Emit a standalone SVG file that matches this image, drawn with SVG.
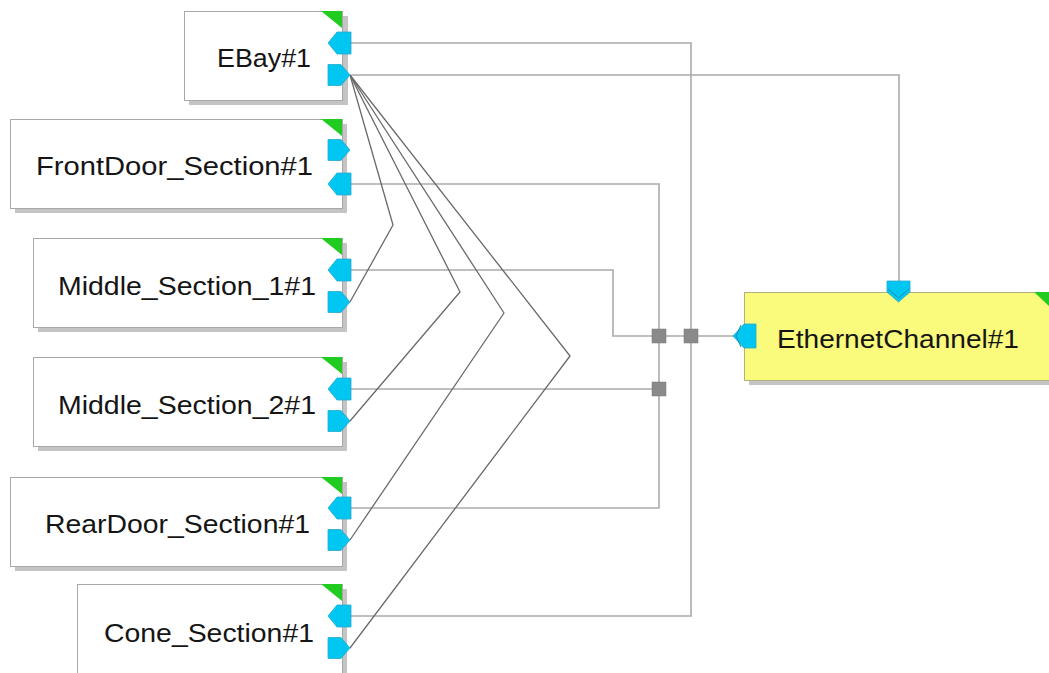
<svg xmlns="http://www.w3.org/2000/svg" width="1049" height="673" viewBox="0 0 1049 673">
<style>
.box{fill:#ffffff;stroke:#a8a8a8;stroke-width:1}
.shadow{fill:#c4c4c4}
.yel{fill:#fafa7c;stroke:#b0b080;stroke-width:1}
.tri{fill:#1fcc1f}
.port{fill:#00c6f2;stroke:#28a8cc;stroke-width:0.8}
.chev{fill:none;stroke:#1890b0;stroke-width:1}
.lbl{font-family:"Liberation Sans",Arial,sans-serif;font-size:25px;fill:#151515}
.wire{fill:none;stroke:#ababab;stroke-width:1.6}
.diag{fill:none;stroke:#6a6a6a;stroke-width:1.3;stroke-linejoin:round}
.junc{fill:#8a8a8a;stroke:#777;stroke-width:0.5}
</style>
<rect width="1049" height="673" fill="#ffffff"/>

<g id="connectors">
  <polyline class="wire" points="351,43 691,43 691,616 351,616"/>
  <polyline class="wire" points="351,75 899,75 899,282"/>
  <polyline class="wire" points="351,184 659,184 659,508 351,508"/>
  <polyline class="wire" points="351,270 613,270 613,336 733,336"/>
  <polyline class="wire" points="351,389 659,389"/>
  <polyline class="diag" points="350,75 393,225 350,302"/>
  <polyline class="diag" points="350,75 460,292 350,421"/>
  <polyline class="diag" points="350,75 504,313 350,540"/>
  <polyline class="diag" points="350,75 570,356 350,648"/>
  <rect class="junc" x="652" y="329" width="14" height="14"/>
  <rect class="junc" x="684" y="329" width="14" height="14"/>
  <rect class="junc" x="652" y="382" width="14" height="14"/>
</g>

<g id="ebay">
  <rect class="shadow" x="189" y="16" width="159" height="89"/>
  <rect class="box" x="184.5" y="11.5" width="158" height="89"/>
  <polygon class="tri" points="321,11 342,11 342,28"/>
  <polygon class="port" points="328,43 337,32 351,32 351,54 337,54"/>
  <polygon class="port" points="328,64.5 341,64.5 350,75 341,85.5 328,85.5"/>
  <text class="lbl" x="217" y="67" textLength="94" lengthAdjust="spacingAndGlyphs">EBay#1</text>
</g>

<g id="frontdoor">
  <rect class="shadow" x="15" y="124" width="332" height="89"/>
  <rect class="box" x="10.5" y="119.5" width="332" height="89"/>
  <polygon class="tri" points="321,119 342,119 342,136"/>
  <polygon class="port" points="328,139.5 341,139.5 350,150 341,160.5 328,160.5"/>
  <polygon class="port" points="328,184 337,173 351,173 351,195 337,195"/>
  <text class="lbl" x="36" y="175" textLength="277" lengthAdjust="spacingAndGlyphs">FrontDoor_Section#1</text>
</g>

<g id="middle1">
  <rect class="shadow" x="38" y="243" width="309" height="89"/>
  <rect class="box" x="33.5" y="238.5" width="309" height="89"/>
  <polygon class="tri" points="321,238 342,238 342,255"/>
  <polygon class="port" points="328,270 337,259 351,259 351,281 337,281"/>
  <polygon class="port" points="328,291.5 341,291.5 350,302 341,312.5 328,312.5"/>
  <text class="lbl" x="58" y="295" textLength="258" lengthAdjust="spacingAndGlyphs">Middle_Section_1#1</text>
</g>

<g id="middle2">
  <rect class="shadow" x="38" y="362" width="309" height="89"/>
  <rect class="box" x="33.5" y="357.5" width="309" height="89"/>
  <polygon class="tri" points="321,357 342,357 342,374"/>
  <polygon class="port" points="328,389 337,378 351,378 351,400 337,400"/>
  <polygon class="port" points="328,410.5 341,410.5 350,421 341,431.5 328,431.5"/>
  <text class="lbl" x="58" y="414" textLength="258" lengthAdjust="spacingAndGlyphs">Middle_Section_2#1</text>
</g>

<g id="reardoor">
  <rect class="shadow" x="15" y="482" width="332" height="89"/>
  <rect class="box" x="10.5" y="477.5" width="332" height="89"/>
  <polygon class="tri" points="321,477 342,477 342,494"/>
  <polygon class="port" points="328,508 337,497 351,497 351,519 337,519"/>
  <polygon class="port" points="328,529.5 341,529.5 350,540 341,550.5 328,550.5"/>
  <text class="lbl" x="45" y="533" textLength="265" lengthAdjust="spacingAndGlyphs">RearDoor_Section#1</text>
</g>

<g id="cone">
  <rect class="shadow" x="82" y="589" width="265" height="89"/>
  <rect class="box" x="77.5" y="584.5" width="265" height="89"/>
  <polygon class="tri" points="321,584 342,584 342,601"/>
  <polygon class="port" points="328,616 337,605 351,605 351,627 337,627"/>
  <polygon class="port" points="328,637.5 341,637.5 350,648 341,658.5 328,658.5"/>
  <text class="lbl" x="104" y="642" textLength="210" lengthAdjust="spacingAndGlyphs">Cone_Section#1</text>
</g>

<g id="ethernet">
  <rect class="shadow" x="749" y="297" width="310" height="88"/>
  <rect class="yel" x="744.5" y="292.5" width="310" height="88"/>
  <polygon class="tri" points="1034,292 1049,292 1049,306"/>
  <polygon class="port" points="887,281 910,281 910,292 898.5,302 887,292"/>
  <polyline class="chev" points="888,289 898.5,298 909,289"/>
  <polygon class="port" points="733,336 744,324 756,324 756,348 744,348"/>
  <polyline class="chev" points="741,325 736,336 741,347"/>
  <text class="lbl" x="777" y="348" textLength="242" lengthAdjust="spacingAndGlyphs">EthernetChannel#1</text>
</g>
</svg>
